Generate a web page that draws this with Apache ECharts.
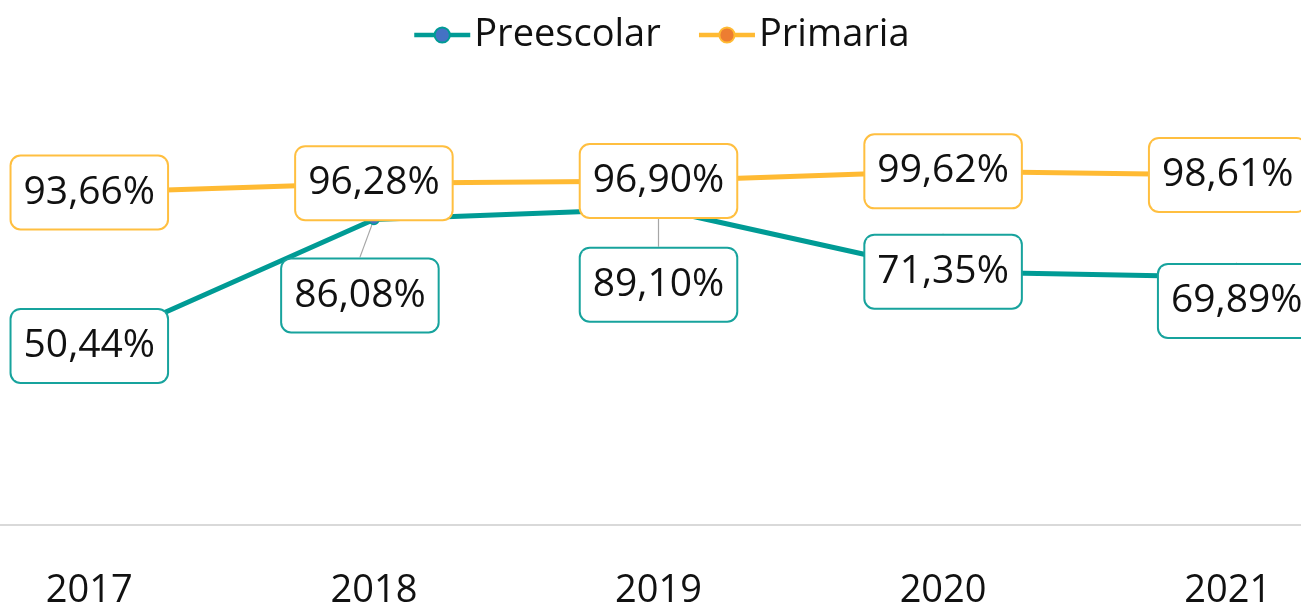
<!DOCTYPE html>
<html>
<head>
<meta charset="utf-8">
<script src="https://cdn.jsdelivr.net/npm/echarts@6/dist/echarts.min.js"></script>
<style>
html, body { margin: 0; padding: 0; background: #fff; }
#main { width: 1301px; height: 606px; }
</style>
</head>
<body>
<div id="main"></div>
<script>
// datos
const years = ['2017', '2018', '2019', '2020', '2021'];
const preescolar = [50.44, 86.08, 89.10, 71.35, 69.89];
const primaria = [93.66, 96.28, 96.90, 99.62, 98.61];

// desplazamiento de las etiquetas de Preescolar (px)
const preescolarShift = [[0, 0], [-14, 76], [0, 76], [0, 0], [9, 24]];

const fmt = p => p.value.toFixed(2).replace('.', ',') + '%';

function labelStyle(border) {
    return {
        show: true,
        position: 'inside',
        formatter: fmt,
        fontFamily: 'Open Sans',
        fontSize: 39,
        lineHeight: 44,
        color: '#111',
        backgroundColor: '#fff',
        borderColor: border,
        borderWidth: 2,
        borderRadius: 9,
        padding: [14, 12, 14, 12]
    };
}

const chart = echarts.init(document.getElementById('main'));

const option = {
    animation: false,
    textStyle: { fontFamily: 'Open Sans' },
    legend: {
        top: 11,
        left: 407,
        itemWidth: 56,
        itemHeight: 19,
        itemGap: 36,
        lineStyle: { width: 4.5 },
        textStyle: { fontSize: 38, color: '#111', padding: [0, 0, 0, -1] },
        data: ['Preescolar', 'Primaria']
    },
    grid: { left: -53, right: -69, top: 99, bottom: 81, outerBoundsMode: 'none' },
    xAxis: {
        type: 'category',
        data: years,
        boundaryGap: true,
        axisTick: { show: false },
        axisLine: { lineStyle: { color: '#D9D9D9', width: 2 } },
        axisLabel: { fontSize: 38, color: '#111', margin: 47 }
    },
    yAxis: {
        type: 'value',
        min: 0,
        max: 120,
        show: false,
        splitLine: { show: false }
    },
    series: [
        {
            name: 'Preescolar',
            type: 'line',
            data: preescolar,
            symbol: 'circle',
            symbolSize: 10,
            lineStyle: { color: '#009B95', width: 5 },
            itemStyle: { color: '#4472C4', borderColor: '#009B95', borderWidth: 1.5 },
            label: labelStyle('#17A39D'),
            labelLine: { show: true, lineStyle: { color: '#A6A6A6', width: 1.2 } },
            labelLayout: function (params) {
                const s = preescolarShift[params.dataIndex];
                return { dx: s[0], dy: s[1] };
            }
        },
        {
            name: 'Primaria',
            type: 'line',
            data: primaria,
            symbol: 'circle',
            symbolSize: 10,
            lineStyle: { color: '#FFBA33', width: 5 },
            itemStyle: { color: '#ED7D31', borderColor: '#FFBA33', borderWidth: 1.5 },
            label: labelStyle('#FFBF40')
        }
    ]
};

chart.setOption(option);
</script>
</body>
</html>
